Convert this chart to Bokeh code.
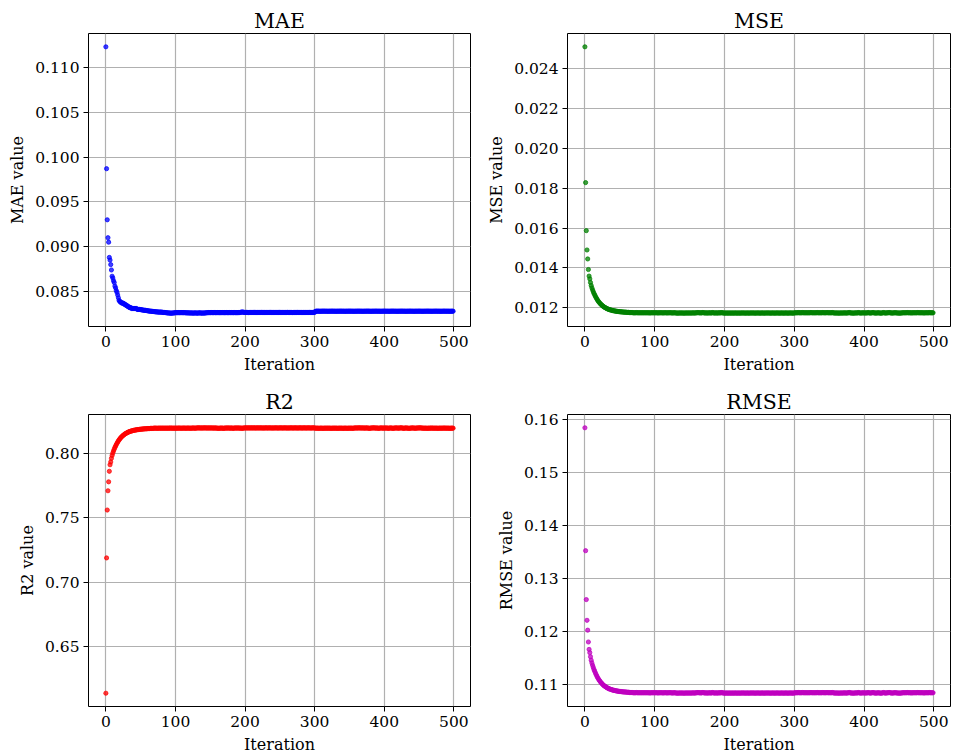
from bokeh.plotting import figure
from bokeh.layouts import column, row
from bokeh.models import Range1d, FixedTicker, PrintfTickFormatter
from bokeh.embed import file_html
from bokeh.resources import INLINE

# ---------------- data ----------------
iterations = list(range(500))

mae = [
    0.1123, 0.0987, 0.0930, 0.0910, 0.0905, 0.0888, 0.0885, 0.0880, 0.0874, 0.0867,
    0.0865, 0.0862, 0.0860, 0.0856, 0.0854, 0.0851, 0.0849, 0.0846, 0.0843, 0.0840,
    0.0839, 0.0838, 0.0838, 0.0837, 0.0837, 0.0837, 0.0836, 0.0836, 0.0835, 0.0835,
    0.0834, 0.0834, 0.0833, 0.0833, 0.0832, 0.0832, 0.0832, 0.0831, 0.0831, 0.0831,
    0.0831, 0.0831, 0.0831, 0.0831, 0.0831, 0.0830, 0.0830, 0.0830, 0.0830, 0.0830,
    0.08298, 0.08296, 0.08295, 0.08293, 0.08292, 0.0829, 0.0829, 0.0829, 0.08288, 0.08286,
    0.08285, 0.08284, 0.08282, 0.08281, 0.0828, 0.0828, 0.08279, 0.08278, 0.08277, 0.08276,
    0.08275, 0.08274, 0.08273, 0.08272, 0.08272, 0.08271, 0.0827, 0.0827, 0.0827, 0.0827,
    0.0827, 0.08268, 0.08267, 0.08266, 0.08266, 0.08265, 0.08264, 0.08263, 0.08262, 0.08261,
    0.0826, 0.0826, 0.0826, 0.08258, 0.08258, 0.08259, 0.0826, 0.0826, 0.08261, 0.08262,
    0.08264, 0.08264, 0.08263, 0.08264, 0.08264, 0.08264, 0.08263, 0.08264, 0.08264, 0.08264,
    0.08264, 0.08263, 0.08264, 0.08264, 0.08263, 0.08262, 0.08262, 0.08262, 0.08261, 0.08261,
    0.08261, 0.0826, 0.0826, 0.08261, 0.0826, 0.08259, 0.08259, 0.0826, 0.08261, 0.0826,
    0.0826, 0.08259, 0.08259, 0.0826, 0.08261, 0.08262, 0.0826, 0.08259, 0.08259, 0.0826,
    0.0826, 0.08259, 0.0826, 0.08261, 0.08262, 0.08263, 0.08263, 0.08264, 0.08264, 0.08264,
    0.08264, 0.08264, 0.08265, 0.08264, 0.08264, 0.08264, 0.08265, 0.08264, 0.08264, 0.08264,
    0.08264, 0.08265, 0.08264, 0.08264, 0.08264, 0.08264, 0.08264, 0.08265, 0.08264, 0.08264,
    0.08264, 0.08264, 0.08264, 0.08265, 0.08264, 0.08264, 0.08264, 0.08264, 0.08265, 0.08264,
    0.08264, 0.08265, 0.08264, 0.08264, 0.08264, 0.08265, 0.08264, 0.08264, 0.08264, 0.08264,
    0.08264, 0.08265, 0.08265, 0.08266, 0.08268, 0.0827, 0.08271, 0.0827, 0.08268, 0.08267,
    0.08266, 0.08266, 0.08267, 0.08266, 0.08266, 0.08265, 0.08266, 0.08266, 0.08266, 0.08266,
    0.08266, 0.08266, 0.08266, 0.08267, 0.08266, 0.08266, 0.08266, 0.08265, 0.08266, 0.08266,
    0.08266, 0.08266, 0.08266, 0.08266, 0.08267, 0.08266, 0.08266, 0.08266, 0.08266, 0.08266,
    0.08265, 0.08266, 0.08266, 0.08266, 0.08266, 0.08266, 0.08267, 0.08266, 0.08266, 0.08266,
    0.08266, 0.08266, 0.08266, 0.08265, 0.08266, 0.08266, 0.08266, 0.08266, 0.08266, 0.08267,
    0.08266, 0.08266, 0.08266, 0.08266, 0.08266, 0.08266, 0.08265, 0.08266, 0.08266, 0.08266,
    0.08266, 0.08267, 0.08266, 0.08266, 0.08266, 0.08266, 0.08266, 0.08266, 0.08265, 0.08266,
    0.08266, 0.08266, 0.08266, 0.08266, 0.08266, 0.08267, 0.08266, 0.08266, 0.08266, 0.08266,
    0.08266, 0.08266, 0.08265, 0.08266, 0.08266, 0.08266, 0.08266, 0.08266, 0.08266, 0.08266,
    0.08266, 0.08266, 0.08266, 0.08267, 0.08266, 0.08266, 0.08266, 0.08266, 0.08266, 0.08267,
    0.08267, 0.08278, 0.0828, 0.0828, 0.08281, 0.0828, 0.0828, 0.0828, 0.08279, 0.0828,
    0.0828, 0.0828, 0.0828, 0.08281, 0.0828, 0.0828, 0.0828, 0.0828, 0.0828, 0.08279,
    0.0828, 0.0828, 0.0828, 0.0828, 0.0828, 0.08281, 0.0828, 0.0828, 0.0828, 0.0828,
    0.0828, 0.08279, 0.0828, 0.0828, 0.0828, 0.0828, 0.0828, 0.08281, 0.0828, 0.0828,
    0.0828, 0.0828, 0.0828, 0.0828, 0.08279, 0.0828, 0.0828, 0.0828, 0.0828, 0.0828,
    0.08281, 0.0828, 0.0828, 0.0828, 0.0828, 0.0828, 0.08279, 0.0828, 0.0828, 0.0828,
    0.0828, 0.0828, 0.0828, 0.08281, 0.0828, 0.0828, 0.0828, 0.0828, 0.0828, 0.08279,
    0.0828, 0.0828, 0.0828, 0.0828, 0.0828, 0.0828, 0.08281, 0.0828, 0.0828, 0.0828,
    0.0828, 0.08279, 0.0828, 0.0828, 0.0828, 0.0828, 0.0828, 0.0828, 0.08281, 0.0828,
    0.0828, 0.0828, 0.0828, 0.0828, 0.0828, 0.08279, 0.0828, 0.0828, 0.0828, 0.0828,
    0.08281, 0.0828, 0.0828, 0.0828, 0.0828, 0.0828, 0.0828, 0.08279, 0.0828, 0.0828,
    0.0828, 0.0828, 0.08281, 0.0828, 0.0828, 0.0828, 0.0828, 0.0828, 0.0828, 0.08279,
    0.0828, 0.0828, 0.0828, 0.0828, 0.0828, 0.08281, 0.0828, 0.0828, 0.0828, 0.0828,
    0.0828, 0.08279, 0.0828, 0.0828, 0.0828, 0.0828, 0.0828, 0.08281, 0.0828, 0.0828,
    0.0828, 0.0828, 0.0828, 0.08279, 0.0828, 0.0828, 0.0828, 0.0828, 0.0828, 0.0828,
    0.08281, 0.0828, 0.0828, 0.0828, 0.0828, 0.08279, 0.0828, 0.0828, 0.0828, 0.0828,
    0.0828, 0.0828, 0.08281, 0.0828, 0.0828, 0.0828, 0.0828, 0.0828, 0.08279, 0.0828,
    0.0828, 0.0828, 0.0828, 0.0828, 0.08281, 0.0828, 0.0828, 0.0828, 0.0828, 0.0828,
    0.0828, 0.08279, 0.0828, 0.0828, 0.0828, 0.0828, 0.08281, 0.0828, 0.0828, 0.0828,
    0.0828, 0.0828, 0.0828, 0.0828, 0.08279, 0.0828, 0.0828, 0.0828, 0.0828, 0.0828,
]

mse = [
    0.02509, 0.01828, 0.01587, 0.01490, 0.01445, 0.01392, 0.01359, 0.01345, 0.01327, 0.01312,
    0.01300, 0.01290, 0.01281, 0.01272, 0.01265, 0.01258, 0.01251, 0.01245, 0.01239, 0.01234,
    0.01229, 0.01225, 0.01221, 0.01217, 0.01214, 0.01211, 0.01208, 0.01205, 0.01203, 0.01201,
    0.01199, 0.01197, 0.01195, 0.01194, 0.01192, 0.01191, 0.01190, 0.01189, 0.01188, 0.01187,
    0.01186, 0.01185, 0.01185, 0.01184, 0.01183, 0.01183, 0.01182, 0.01182, 0.01181, 0.01181,
    0.01180, 0.01180, 0.01180, 0.01179, 0.01179, 0.01179, 0.01178, 0.01178, 0.01178, 0.01178,
    0.01177, 0.01177, 0.01177, 0.01177, 0.01176, 0.01176, 0.01176, 0.01176, 0.01176, 0.01175,
    0.01175, 0.01175, 0.01175, 0.01175, 0.01176, 0.01175, 0.01175, 0.01175, 0.01175, 0.01175,
    0.01175, 0.01175, 0.01175, 0.01175, 0.01175, 0.01175, 0.01175, 0.01175, 0.01175, 0.01175,
    0.01175, 0.01175, 0.01175, 0.01174, 0.01175, 0.01175, 0.01175, 0.01175, 0.01175, 0.01175,
    0.01175, 0.01175, 0.01175, 0.01175, 0.01175, 0.01174, 0.01175, 0.01175, 0.01175, 0.01175,
    0.01175, 0.01175, 0.01174, 0.01175, 0.01175, 0.01175, 0.01175, 0.01175, 0.01174, 0.01175,
    0.01175, 0.01175, 0.01175, 0.01175, 0.01175, 0.01174, 0.01174, 0.01175, 0.01175, 0.01175,
    0.01174, 0.01174, 0.01174, 0.01173, 0.01174, 0.01174, 0.01174, 0.01174, 0.01174, 0.01174,
    0.01174, 0.01174, 0.01173, 0.01174, 0.01174, 0.01174, 0.01174, 0.01174, 0.01174, 0.01174,
    0.01174, 0.01174, 0.01174, 0.01174, 0.01174, 0.01175, 0.01174, 0.01174, 0.01174, 0.01175,
    0.01175, 0.01175, 0.01176, 0.01175, 0.01175, 0.01175, 0.01174, 0.01175, 0.01175, 0.01176,
    0.01175, 0.01175, 0.01174, 0.01174, 0.01175, 0.01174, 0.01174, 0.01174, 0.01175, 0.01175,
    0.01174, 0.01174, 0.01175, 0.01176, 0.01175, 0.01174, 0.01174, 0.01174, 0.01175, 0.01174,
    0.01174, 0.01174, 0.01175, 0.01175, 0.01174, 0.01175, 0.01176, 0.01175, 0.01174, 0.01174,
    0.01174, 0.01173, 0.01174, 0.01174, 0.01174, 0.01173, 0.01174, 0.01174, 0.01174, 0.01173,
    0.01174, 0.01174, 0.01174, 0.01173, 0.01174, 0.01174, 0.01174, 0.01174, 0.01173, 0.01174,
    0.01174, 0.01174, 0.01173, 0.01174, 0.01174, 0.01174, 0.01174, 0.01174, 0.01174, 0.01174,
    0.01173, 0.01174, 0.01174, 0.01174, 0.01174, 0.01173, 0.01174, 0.01174, 0.01174, 0.01174,
    0.01174, 0.01174, 0.01174, 0.01174, 0.01173, 0.01174, 0.01174, 0.01174, 0.01174, 0.01174,
    0.01174, 0.01173, 0.01174, 0.01174, 0.01174, 0.01174, 0.01174, 0.01173, 0.01174, 0.01174,
    0.01174, 0.01174, 0.01174, 0.01174, 0.01174, 0.01174, 0.01173, 0.01174, 0.01174, 0.01174,
    0.01174, 0.01174, 0.01173, 0.01174, 0.01174, 0.01174, 0.01174, 0.01174, 0.01174, 0.01173,
    0.01174, 0.01174, 0.01174, 0.01174, 0.01174, 0.01173, 0.01174, 0.01174, 0.01174, 0.01174,
    0.01174, 0.01173, 0.01174, 0.01174, 0.01174, 0.01174, 0.01174, 0.01174, 0.01173, 0.01174,
    0.01174, 0.01175, 0.01175, 0.01175, 0.01175, 0.01175, 0.01176, 0.01175, 0.01175, 0.01175,
    0.01175, 0.01175, 0.01176, 0.01175, 0.01175, 0.01175, 0.01175, 0.01175, 0.01175, 0.01175,
    0.01175, 0.01175, 0.01175, 0.01175, 0.01176, 0.01175, 0.01175, 0.01175, 0.01175, 0.01175,
    0.01175, 0.01175, 0.01175, 0.01176, 0.01175, 0.01175, 0.01175, 0.01175, 0.01175, 0.01175,
    0.01175, 0.01176, 0.01175, 0.01175, 0.01175, 0.01175, 0.01175, 0.01176, 0.01175, 0.01175,
    0.01175, 0.01175, 0.01175, 0.01175, 0.01175, 0.01176, 0.01175, 0.01174, 0.01174, 0.01174,
    0.01174, 0.01174, 0.01174, 0.01174, 0.01173, 0.01174, 0.01174, 0.01174, 0.01174, 0.01174,
    0.01174, 0.01174, 0.01175, 0.01174, 0.01174, 0.01174, 0.01174, 0.01175, 0.01175, 0.01176,
    0.01175, 0.01174, 0.01174, 0.01174, 0.01174, 0.01173, 0.01174, 0.01174, 0.01175, 0.01174,
    0.01174, 0.01175, 0.01176, 0.01175, 0.01174, 0.01174, 0.01174, 0.01174, 0.01175, 0.01175,
    0.01174, 0.01174, 0.01175, 0.01174, 0.01174, 0.01175, 0.01176, 0.01175, 0.01174, 0.01174,
    0.01174, 0.01175, 0.01175, 0.01176, 0.01175, 0.01174, 0.01174, 0.01174, 0.01174, 0.01174,
    0.01175, 0.01175, 0.01174, 0.01174, 0.01173, 0.01174, 0.01174, 0.01175, 0.01176, 0.01175,
    0.01174, 0.01174, 0.01174, 0.01175, 0.01175, 0.01175, 0.01176, 0.01175, 0.01175, 0.01174,
    0.01174, 0.01174, 0.01174, 0.01175, 0.01175, 0.01175, 0.01175, 0.01174, 0.01174, 0.01174,
    0.01174, 0.01173, 0.01174, 0.01174, 0.01174, 0.01175, 0.01175, 0.01175, 0.01175, 0.01175,
    0.01175, 0.01175, 0.01176, 0.01175, 0.01175, 0.01175, 0.01175, 0.01175, 0.01174, 0.01175,
    0.01175, 0.01175, 0.01175, 0.01175, 0.01175, 0.01175, 0.01175, 0.01176, 0.01175, 0.01175,
    0.01175, 0.01175, 0.01175, 0.01175, 0.01175, 0.01175, 0.01174, 0.01175, 0.01175, 0.01175,
    0.01175, 0.01175, 0.01175, 0.01175, 0.01176, 0.01175, 0.01175, 0.01175, 0.01175, 0.01175,
]

r2 = [
    0.61400, 0.71877, 0.75585, 0.77077, 0.77769, 0.78585, 0.79092, 0.79308, 0.79585, 0.79815,
    0.80000, 0.80154, 0.80292, 0.80431, 0.80538, 0.80646, 0.80754, 0.80846, 0.80938, 0.81015,
    0.81092, 0.81154, 0.81215, 0.81277, 0.81323, 0.81369, 0.81415, 0.81462, 0.81492, 0.81523,
    0.81554, 0.81585, 0.81615, 0.81631, 0.81662, 0.81677, 0.81692, 0.81708, 0.81723, 0.81738,
    0.81754, 0.81769, 0.81769, 0.81785, 0.81800, 0.81800, 0.81815, 0.81815, 0.81831, 0.81831,
    0.81846, 0.81846, 0.81846, 0.81862, 0.81862, 0.81862, 0.81877, 0.81877, 0.81877, 0.81877,
    0.81892, 0.81892, 0.81892, 0.81892, 0.81908, 0.81908, 0.81908, 0.81908, 0.81908, 0.81923,
    0.81923, 0.81923, 0.81923, 0.81923, 0.81908, 0.81923, 0.81923, 0.81923, 0.81923, 0.81923,
    0.81923, 0.81923, 0.81923, 0.81923, 0.81923, 0.81923, 0.81923, 0.81923, 0.81923, 0.81923,
    0.81923, 0.81923, 0.81923, 0.81938, 0.81923, 0.81923, 0.81923, 0.81923, 0.81923, 0.81923,
    0.81923, 0.81923, 0.81923, 0.81923, 0.81923, 0.81938, 0.81923, 0.81923, 0.81923, 0.81923,
    0.81923, 0.81923, 0.81938, 0.81923, 0.81923, 0.81923, 0.81923, 0.81923, 0.81938, 0.81923,
    0.81923, 0.81923, 0.81923, 0.81923, 0.81923, 0.81938, 0.81938, 0.81923, 0.81923, 0.81923,
    0.81938, 0.81938, 0.81938, 0.81954, 0.81938, 0.81938, 0.81938, 0.81938, 0.81938, 0.81938,
    0.81938, 0.81938, 0.81954, 0.81938, 0.81938, 0.81938, 0.81938, 0.81938, 0.81938, 0.81938,
    0.81938, 0.81938, 0.81938, 0.81938, 0.81938, 0.81923, 0.81938, 0.81938, 0.81938, 0.81923,
    0.81923, 0.81923, 0.81908, 0.81923, 0.81923, 0.81923, 0.81938, 0.81923, 0.81923, 0.81908,
    0.81923, 0.81923, 0.81938, 0.81938, 0.81923, 0.81938, 0.81938, 0.81938, 0.81923, 0.81923,
    0.81938, 0.81938, 0.81923, 0.81908, 0.81923, 0.81938, 0.81938, 0.81938, 0.81923, 0.81938,
    0.81938, 0.81938, 0.81923, 0.81923, 0.81938, 0.81923, 0.81908, 0.81923, 0.81938, 0.81938,
    0.81938, 0.81954, 0.81938, 0.81938, 0.81938, 0.81954, 0.81938, 0.81938, 0.81938, 0.81954,
    0.81938, 0.81938, 0.81938, 0.81954, 0.81938, 0.81938, 0.81938, 0.81938, 0.81954, 0.81938,
    0.81938, 0.81938, 0.81954, 0.81938, 0.81938, 0.81938, 0.81938, 0.81938, 0.81938, 0.81938,
    0.81954, 0.81938, 0.81938, 0.81938, 0.81938, 0.81954, 0.81938, 0.81938, 0.81938, 0.81938,
    0.81938, 0.81938, 0.81938, 0.81938, 0.81954, 0.81938, 0.81938, 0.81938, 0.81938, 0.81938,
    0.81938, 0.81954, 0.81938, 0.81938, 0.81938, 0.81938, 0.81938, 0.81954, 0.81938, 0.81938,
    0.81938, 0.81938, 0.81938, 0.81938, 0.81938, 0.81938, 0.81954, 0.81938, 0.81938, 0.81938,
    0.81938, 0.81938, 0.81954, 0.81938, 0.81938, 0.81938, 0.81938, 0.81938, 0.81938, 0.81954,
    0.81938, 0.81938, 0.81938, 0.81938, 0.81938, 0.81954, 0.81938, 0.81938, 0.81938, 0.81938,
    0.81938, 0.81954, 0.81938, 0.81938, 0.81938, 0.81938, 0.81938, 0.81938, 0.81954, 0.81938,
    0.81938, 0.81923, 0.81923, 0.81923, 0.81923, 0.81923, 0.81908, 0.81923, 0.81923, 0.81923,
    0.81923, 0.81923, 0.81908, 0.81923, 0.81923, 0.81923, 0.81923, 0.81923, 0.81923, 0.81923,
    0.81923, 0.81923, 0.81923, 0.81923, 0.81908, 0.81923, 0.81923, 0.81923, 0.81923, 0.81923,
    0.81923, 0.81923, 0.81923, 0.81908, 0.81923, 0.81923, 0.81923, 0.81923, 0.81923, 0.81923,
    0.81923, 0.81908, 0.81923, 0.81923, 0.81923, 0.81923, 0.81923, 0.81908, 0.81923, 0.81923,
    0.81923, 0.81923, 0.81923, 0.81923, 0.81923, 0.81908, 0.81923, 0.81938, 0.81938, 0.81938,
    0.81938, 0.81938, 0.81938, 0.81938, 0.81954, 0.81938, 0.81938, 0.81938, 0.81938, 0.81938,
    0.81938, 0.81938, 0.81923, 0.81938, 0.81938, 0.81938, 0.81938, 0.81923, 0.81923, 0.81908,
    0.81923, 0.81938, 0.81938, 0.81938, 0.81938, 0.81954, 0.81938, 0.81938, 0.81923, 0.81938,
    0.81938, 0.81923, 0.81908, 0.81923, 0.81938, 0.81938, 0.81938, 0.81938, 0.81923, 0.81923,
    0.81938, 0.81938, 0.81923, 0.81938, 0.81938, 0.81923, 0.81908, 0.81923, 0.81938, 0.81938,
    0.81938, 0.81923, 0.81923, 0.81908, 0.81923, 0.81938, 0.81938, 0.81938, 0.81938, 0.81938,
    0.81923, 0.81923, 0.81938, 0.81938, 0.81954, 0.81938, 0.81938, 0.81923, 0.81908, 0.81923,
    0.81938, 0.81938, 0.81938, 0.81923, 0.81923, 0.81923, 0.81908, 0.81923, 0.81923, 0.81938,
    0.81938, 0.81938, 0.81938, 0.81923, 0.81923, 0.81923, 0.81923, 0.81938, 0.81938, 0.81938,
    0.81938, 0.81954, 0.81938, 0.81938, 0.81938, 0.81923, 0.81923, 0.81923, 0.81923, 0.81923,
    0.81923, 0.81923, 0.81908, 0.81923, 0.81923, 0.81923, 0.81923, 0.81923, 0.81938, 0.81923,
    0.81923, 0.81923, 0.81923, 0.81923, 0.81923, 0.81923, 0.81923, 0.81908, 0.81923, 0.81923,
    0.81923, 0.81923, 0.81923, 0.81923, 0.81923, 0.81923, 0.81938, 0.81923, 0.81923, 0.81923,
    0.81923, 0.81923, 0.81923, 0.81923, 0.81908, 0.81923, 0.81923, 0.81923, 0.81923, 0.81923,
]

rmse = [
    0.15840, 0.13520, 0.12598, 0.12207, 0.12021, 0.11798, 0.11658, 0.11597, 0.11520, 0.11454,
    0.11402, 0.11358, 0.11318, 0.11278, 0.11247, 0.11216, 0.11185, 0.11158, 0.11131, 0.11109,
    0.11086, 0.11068, 0.11050, 0.11032, 0.11018, 0.11005, 0.10991, 0.10977, 0.10968, 0.10959,
    0.10950, 0.10941, 0.10932, 0.10927, 0.10918, 0.10913, 0.10909, 0.10904, 0.10900, 0.10895,
    0.10890, 0.10886, 0.10886, 0.10881, 0.10877, 0.10877, 0.10872, 0.10872, 0.10867, 0.10867,
    0.10863, 0.10863, 0.10863, 0.10858, 0.10858, 0.10858, 0.10854, 0.10854, 0.10854, 0.10854,
    0.10849, 0.10849, 0.10849, 0.10849, 0.10844, 0.10844, 0.10844, 0.10844, 0.10844, 0.10840,
    0.10840, 0.10840, 0.10840, 0.10840, 0.10844, 0.10840, 0.10840, 0.10840, 0.10840, 0.10840,
    0.10840, 0.10840, 0.10840, 0.10840, 0.10840, 0.10840, 0.10840, 0.10840, 0.10840, 0.10840,
    0.10840, 0.10840, 0.10840, 0.10835, 0.10840, 0.10840, 0.10840, 0.10840, 0.10840, 0.10840,
    0.10840, 0.10840, 0.10840, 0.10840, 0.10840, 0.10835, 0.10840, 0.10840, 0.10840, 0.10840,
    0.10840, 0.10840, 0.10835, 0.10840, 0.10840, 0.10840, 0.10840, 0.10840, 0.10835, 0.10840,
    0.10840, 0.10840, 0.10840, 0.10840, 0.10840, 0.10835, 0.10835, 0.10840, 0.10840, 0.10840,
    0.10835, 0.10835, 0.10835, 0.10831, 0.10835, 0.10835, 0.10835, 0.10835, 0.10835, 0.10835,
    0.10835, 0.10835, 0.10831, 0.10835, 0.10835, 0.10835, 0.10835, 0.10835, 0.10835, 0.10835,
    0.10835, 0.10835, 0.10835, 0.10835, 0.10835, 0.10840, 0.10835, 0.10835, 0.10835, 0.10840,
    0.10840, 0.10840, 0.10844, 0.10840, 0.10840, 0.10840, 0.10835, 0.10840, 0.10840, 0.10844,
    0.10840, 0.10840, 0.10835, 0.10835, 0.10840, 0.10835, 0.10835, 0.10835, 0.10840, 0.10840,
    0.10835, 0.10835, 0.10840, 0.10844, 0.10840, 0.10835, 0.10835, 0.10835, 0.10840, 0.10835,
    0.10835, 0.10835, 0.10840, 0.10840, 0.10835, 0.10840, 0.10844, 0.10840, 0.10835, 0.10835,
    0.10835, 0.10831, 0.10835, 0.10835, 0.10835, 0.10831, 0.10835, 0.10835, 0.10835, 0.10831,
    0.10835, 0.10835, 0.10835, 0.10831, 0.10835, 0.10835, 0.10835, 0.10835, 0.10831, 0.10835,
    0.10835, 0.10835, 0.10831, 0.10835, 0.10835, 0.10835, 0.10835, 0.10835, 0.10835, 0.10835,
    0.10831, 0.10835, 0.10835, 0.10835, 0.10835, 0.10831, 0.10835, 0.10835, 0.10835, 0.10835,
    0.10835, 0.10835, 0.10835, 0.10835, 0.10831, 0.10835, 0.10835, 0.10835, 0.10835, 0.10835,
    0.10835, 0.10831, 0.10835, 0.10835, 0.10835, 0.10835, 0.10835, 0.10831, 0.10835, 0.10835,
    0.10835, 0.10835, 0.10835, 0.10835, 0.10835, 0.10835, 0.10831, 0.10835, 0.10835, 0.10835,
    0.10835, 0.10835, 0.10831, 0.10835, 0.10835, 0.10835, 0.10835, 0.10835, 0.10835, 0.10831,
    0.10835, 0.10835, 0.10835, 0.10835, 0.10835, 0.10831, 0.10835, 0.10835, 0.10835, 0.10835,
    0.10835, 0.10831, 0.10835, 0.10835, 0.10835, 0.10835, 0.10835, 0.10835, 0.10831, 0.10835,
    0.10835, 0.10840, 0.10840, 0.10840, 0.10840, 0.10840, 0.10844, 0.10840, 0.10840, 0.10840,
    0.10840, 0.10840, 0.10844, 0.10840, 0.10840, 0.10840, 0.10840, 0.10840, 0.10840, 0.10840,
    0.10840, 0.10840, 0.10840, 0.10840, 0.10844, 0.10840, 0.10840, 0.10840, 0.10840, 0.10840,
    0.10840, 0.10840, 0.10840, 0.10844, 0.10840, 0.10840, 0.10840, 0.10840, 0.10840, 0.10840,
    0.10840, 0.10844, 0.10840, 0.10840, 0.10840, 0.10840, 0.10840, 0.10844, 0.10840, 0.10840,
    0.10840, 0.10840, 0.10840, 0.10840, 0.10840, 0.10844, 0.10840, 0.10835, 0.10835, 0.10835,
    0.10835, 0.10835, 0.10835, 0.10835, 0.10831, 0.10835, 0.10835, 0.10835, 0.10835, 0.10835,
    0.10835, 0.10835, 0.10840, 0.10835, 0.10835, 0.10835, 0.10835, 0.10840, 0.10840, 0.10844,
    0.10840, 0.10835, 0.10835, 0.10835, 0.10835, 0.10831, 0.10835, 0.10835, 0.10840, 0.10835,
    0.10835, 0.10840, 0.10844, 0.10840, 0.10835, 0.10835, 0.10835, 0.10835, 0.10840, 0.10840,
    0.10835, 0.10835, 0.10840, 0.10835, 0.10835, 0.10840, 0.10844, 0.10840, 0.10835, 0.10835,
    0.10835, 0.10840, 0.10840, 0.10844, 0.10840, 0.10835, 0.10835, 0.10835, 0.10835, 0.10835,
    0.10840, 0.10840, 0.10835, 0.10835, 0.10831, 0.10835, 0.10835, 0.10840, 0.10844, 0.10840,
    0.10835, 0.10835, 0.10835, 0.10840, 0.10840, 0.10840, 0.10844, 0.10840, 0.10840, 0.10835,
    0.10835, 0.10835, 0.10835, 0.10840, 0.10840, 0.10840, 0.10840, 0.10835, 0.10835, 0.10835,
    0.10835, 0.10831, 0.10835, 0.10835, 0.10835, 0.10840, 0.10840, 0.10840, 0.10840, 0.10840,
    0.10840, 0.10840, 0.10844, 0.10840, 0.10840, 0.10840, 0.10840, 0.10840, 0.10835, 0.10840,
    0.10840, 0.10840, 0.10840, 0.10840, 0.10840, 0.10840, 0.10840, 0.10844, 0.10840, 0.10840,
    0.10840, 0.10840, 0.10840, 0.10840, 0.10840, 0.10840, 0.10835, 0.10840, 0.10840, 0.10840,
    0.10840, 0.10840, 0.10840, 0.10840, 0.10844, 0.10840, 0.10840, 0.10840, 0.10840, 0.10840,
]

x_ticks = [0, 100, 200, 300, 400, 500]
mae_ticks = [0.085, 0.090, 0.095, 0.100, 0.105, 0.110]
mse_ticks = [0.012, 0.014, 0.016, 0.018, 0.020, 0.022, 0.024]
r2_ticks = [0.65, 0.70, 0.75, 0.80]
rmse_ticks = [0.11, 0.12, 0.13, 0.14, 0.15, 0.16]

# ---------------- styling ----------------
FONT = "DejaVu Serif"
TICK_SIZE = "15.5px"
LABEL_SIZE = "16px"
TITLE_SIZE = "20.5px"


def make(title, ylabel, y, color, yticks, fmt, w, h, left, right, top, bottom):
    lo, hi = min(y), max(y)
    pad = (hi - lo) * 0.05
    xlo, xhi = min(iterations), max(iterations)
    xpad = (xhi - xlo) * 0.05
    p = figure(width=w, height=h, output_backend="svg", toolbar_location=None,
               x_range=Range1d(xlo - xpad, xhi + xpad),
               y_range=Range1d(lo - pad, hi + pad),
               min_border_left=left, min_border_right=right,
               min_border_top=top, min_border_bottom=bottom,
               background_fill_color="white", border_fill_color="white")
    p.title.text = title
    p.title.align = "center"
    p.title.text_font = FONT
    p.title.text_font_size = TITLE_SIZE
    p.title.text_font_style = "normal"
    p.title.text_color = "black"
    p.title.standoff = 2

    p.outline_line_color = "black"
    p.outline_line_width = 1
    p.outline_line_alpha = 1.0

    p.xaxis.ticker = FixedTicker(ticks=x_ticks)
    p.yaxis.ticker = FixedTicker(ticks=yticks)
    p.yaxis.formatter = PrintfTickFormatter(format=fmt)
    p.xaxis.axis_label = "Iteration"
    p.yaxis.axis_label = ylabel
    for ax in (p.xaxis[0], p.yaxis[0]):
        ax.axis_line_color = None
        ax.major_tick_line_color = "black"
        ax.major_tick_out = 5
        ax.major_tick_in = 0
        ax.minor_tick_line_color = None
        ax.major_label_text_font = FONT
        ax.major_label_text_font_size = TICK_SIZE
        ax.major_label_text_color = "black"
        ax.major_label_standoff = 4
        ax.axis_label_text_font = FONT
        ax.axis_label_text_font_size = LABEL_SIZE
        ax.axis_label_text_font_style = "normal"
        ax.axis_label_text_color = "black"
        ax.axis_label_standoff = 5

    for g in (p.xgrid[0], p.ygrid[0]):
        g.grid_line_color = "#b0b0b0"
        g.grid_line_width = 1.2

    p.scatter(iterations, y, size=4.2, marker="circle", fill_color=color,
              line_color=color, line_width=1, fill_alpha=0.75, line_alpha=0.75)
    return p


p1 = make("MAE", "MAE value", mae, "#0000ff", mae_ticks, "%.3f", 480, 380, 88, 10, 33, 54)
p2 = make("MSE", "MSE value", mse, "#008000", mse_ticks, "%.3f", 473, 380, 87, 3, 33, 54)
p3 = make("R2", "R2 value", r2, "#ff0000", r2_ticks, "%.2f", 480, 376, 88, 10, 34, 49)
p4 = make("RMSE", "RMSE value", rmse, "#bf00bf", rmse_ticks, "%.2f", 473, 376, 87, 3, 34, 49)

layout = column(row(p1, p2), row(p3, p4))

open("out.html", "w").write(file_html(layout, INLINE))
